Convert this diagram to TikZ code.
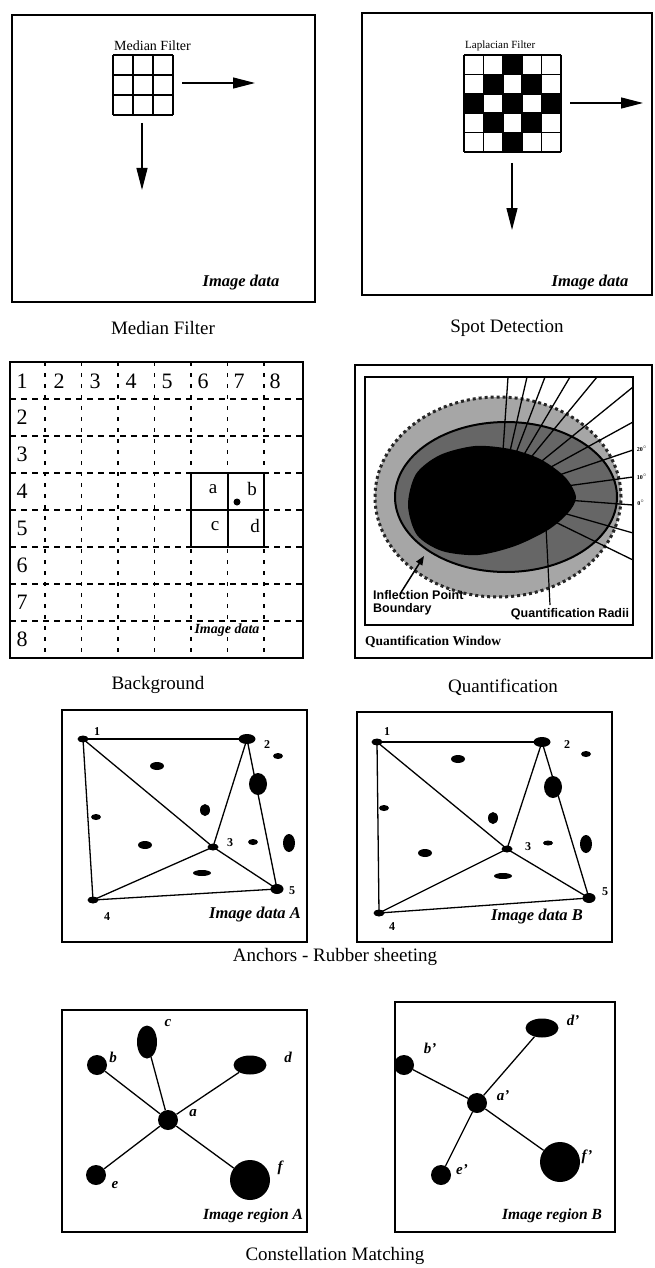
\documentclass[tikz,border=0pt]{standalone}
\usepackage{fontspec}
\setmainfont{Liberation Serif}
\setsansfont{Liberation Sans}
\usetikzlibrary{arrows.meta,shapes.geometric}
\tikzset{panel/.style={x=1pt,y=-1pt}}
\tikzset{frame/.style={draw,line width=1.8pt},
         thin grid/.style={line width=1.5pt},
         ptitle/.style={font=\fontsize{19}{22}\selectfont},
         imgtxt/.style={font=\fontsize{16.5}{19}\selectfont\bfseries\itshape},
         regtxt/.style={font=\fontsize{15.5}{18}\selectfont\bfseries\itshape},
         bigarr/.style={line width=1.2pt,-{Triangle[length=22pt,width=11pt]}},
         gdash/.style={line width=1.4pt,dash pattern=on 6pt off 5pt},
         vdash/.style={line width=1.4pt,dash pattern=on 4pt off 7pt},
         gnum/.style={font=\fontsize{22}{24}\selectfont},
         blob/.style={ellipse,fill=black,inner sep=0pt},
         anc/.style={blob,minimum width=11pt,minimum height=7pt},
         link/.style={line width=1.3pt},
         anum/.style={font=\fontsize{12}{14}\selectfont\bfseries},
         clet/.style={font=\fontsize{15}{17}\selectfont\bfseries\itshape},
         qtxt/.style={font=\fontsize{12.5}{13.5}\selectfont\sffamily\bfseries}}

\begin{document}
\begin{tikzpicture}[panel]
    \useasboundingbox (0,0) rectangle (655,1268);
    % median filter
    \draw[frame] (12,15) rectangle (315,302);
    \foreach \i in {0,...,3} {
      \draw[thin grid] ({113+20*\i},55) -- ({113+20*\i},115);
      \draw[thin grid] (113,{55+20*\i}) -- (173,{55+20*\i});
    }
    \node[anchor=south west,inner sep=1pt,font=\fontsize{14}{16}\selectfont] (mflab) at (113,52) {Median Filter};
    \coordinate (mfa) at (182,83);  \coordinate (mfb) at (255,83);
    \coordinate (mfc) at (142,123); \coordinate (mfd) at (142,190);
    \draw[bigarr] (mfa) -- (mfb);
    \draw[bigarr] (mfc) -- (mfd);
    \node[imgtxt] (mfimg) at (241,283) {Image data};
    \node[ptitle] (mfcap) at (163,328) {Median Filter};

    % spot detection
    \draw[frame] (362,13) rectangle (652,295);
    \foreach \c/\r in {2/0,1/1,3/1,0/2,2/2,4/2,1/3,3/3,2/4}
      \fill ({464+19.4*\c},{55+19.4*\r}) rectangle +(19.4,19.4);
    \foreach \i in {0,...,5} {
      \draw[thin grid] ({464+19.4*\i},55) -- ({464+19.4*\i},152);
      \draw[thin grid] (464,{55+19.4*\i}) -- (561,{55+19.4*\i});
    }
    \node[anchor=south west,inner sep=1pt,font=\fontsize{11}{12}\selectfont] (sdlab) at (464,52) {Laplacian Filter};
    \coordinate (sda) at (570,103); \coordinate (sdb) at (643,103);
    \coordinate (sdc) at (512,163); \coordinate (sdd) at (512,230);
    \draw[bigarr] (sda) -- (sdb);
    \draw[bigarr] (sdc) -- (sdd);
    \node[imgtxt] (sdimg) at (590,283) {Image data};
    \node[ptitle] (sdcap) at (507,328) {Spot Detection};

    % background
    \draw[frame] (10,362) rectangle (303,658);
    \foreach \y in {399,436,473,510,547,584,621} \draw[gdash] (10,\y) -- (303,\y);
    \foreach \x in {45,81.5,118,154.5,191,227.5,264} \draw[vdash] (\x,362) -- (\x,658);
    \foreach \x [count=\k] in {22,59,95,131,167,203,239,275}
      \node[gnum] (top\k) at (\x,381) {\k};
    \foreach \k in {2,...,8}
      \node[gnum] (row\k) at (22,{343.5+37*\k}) {\k};
    \draw[line width=2pt] (191,473) rectangle (264,547);
    \draw[line width=2pt] (227.5,473) -- (227.5,547);
    \draw[line width=2pt] (191,510) -- (264,510);
    \node[font=\fontsize{19}{21}\selectfont] (bga) at (213,489) {a};
    \node[font=\fontsize{19}{21}\selectfont] (bgb) at (252,489) {b};
    \node[font=\fontsize{19}{21}\selectfont] (bgc) at (215,526) {c};
    \node[font=\fontsize{19}{21}\selectfont] (bgd) at (255,526) {d};
    \fill (237,502) circle (3.5pt);
    \node[font=\fontsize{14}{16}\selectfont\bfseries\itshape] (bgimg) at (227,630) {Image data};
    \node[ptitle] (bgcap) at (158,685) {Background};

    % quantification
    \draw[frame] (355,365) rectangle (652,658);
    \draw[line width=1.5pt] (365,377) rectangle (633,625);
    \fill[black!35] (498,497) ellipse [x radius=123pt,y radius=100pt];
    \draw[black!85,line width=3pt,dash pattern=on 3pt off 3pt] (498,497) ellipse [x radius=123pt,y radius=100pt];
    \fill[black!60] (506,497) ellipse [x radius=111pt,y radius=75pt];
    \fill[black] plot[smooth cycle] coordinates {(408,505) (416,474) (440,455) (475,446) (510,449) (540,459) (565,477) (576,497) (568,513) (548,530) (515,546) (478,555) (442,551) (417,535)};
    \draw[line width=2pt] (506,497) ellipse [x radius=111pt,y radius=75pt];
    \coordinate (qo) at (500,495);
    \foreach \x in {508,527,545,570,597} \draw[line width=1.3pt] (qo) -- (\x,377);
    \foreach \y in {387,422,450,477,505,533,560} \draw[line width=1.3pt] (qo) -- (633,\y);
    \node[font=\fontsize{6}{7}\selectfont\bfseries,inner sep=0pt] (d20) at (642,449) {20$^{\circ}$};
    \node[font=\fontsize{6}{7}\selectfont\bfseries,inner sep=0pt] (d10) at (642,477) {10$^{\circ}$};
    \node[font=\fontsize{6}{7}\selectfont\bfseries,inner sep=0pt] (d0) at (641,503) {0$^{\circ}$};
    \node[qtxt,anchor=north west,align=left,inner sep=0pt] (ipb) at (373,590) {Inflection Point\\Boundary};
    \coordinate (ipa) at (400,594); \coordinate (ipt) at (424,556);
    \draw[line width=1.5pt,-{Triangle[length=9pt,width=7pt]}] (ipa) -- (ipt);
    \node[qtxt,inner sep=0pt] (qrad) at (570,614) {Quantification Radii};
    \coordinate (qra) at (550,605); \coordinate (qrb) at (546,527);
    \draw[line width=1.2pt] (qra) -- (qrb);
    \node[anchor=west,inner sep=0pt,font=\fontsize{13.5}{15}\selectfont\bfseries] (qwin) at (365,642) {Quantification Window};
    \node[ptitle] (qcap) at (503,687) {Quantification};

    % anchors - image data A
    \draw[frame] (62,710) rectangle (307,942);
    \foreach \x/\y/\rx/\ry in {157/766/7/4,278/756/5/3,258/784/9/11,205/810/5/6,96/817/5/3,
                               145/845/7/4,253/842/5/3,289/843/6/9,202/873/9/3}
      \fill (\x,\y) ellipse [x radius=\rx pt,y radius=\ry pt];
    \node[anc] (pa1) at (83,739) {};
    \node[anc,minimum width=17pt,minimum height=10pt] (pa2) at (247,739) {};
    \node[anc] (pa3) at (213,847) {};
    \node[anc] (pa4) at (93,900) {};
    \node[anc,minimum width=13pt,minimum height=10pt] (pa5) at (277,889) {};
    \foreach \p/\q in {1/2,1/4,1/3,3/5,2/3,2/5,3/4,4/5}
      \draw[link] (pa\p.center) -- (pa\q.center);
    \node[anum] (la1) at (97,732) {1};
    \node[anum] (la2) at (267,745) {2};
    \node[anum] (la3) at (230,843) {3};
    \node[anum] (la4) at (107,917) {4};
    \node[anum] (la5) at (292,891) {5};
    \node[imgtxt] (aimg) at (255,915) {Image data A};

    % anchors - image data B
    \draw[frame] (357,712) rectangle (612,942);
    \foreach \x/\y/\rx/\ry in {458/759/7/4,586/754/5/3,553/787/9/11,493/818/5/6,384/808/5/3,
                               425/853/7/4,548/843/5/2.5,586/844/6/9,503/876/9/3}
      \fill (\x,\y) ellipse [x radius=\rx pt,y radius=\ry pt];
    \node[anc] (pb1) at (377,742) {};
    \node[anc,minimum width=17pt,minimum height=10pt] (pb2) at (542,742) {};
    \node[anc] (pb3) at (507,849) {};
    \node[anc] (pb4) at (379,913) {};
    \node[anc,minimum width=13pt,minimum height=10pt] (pb5) at (589,898) {};
    \foreach \p/\q in {1/2,1/4,1/3,3/5,2/3,2/5,3/4,4/5}
      \draw[link] (pb\p.center) -- (pb\q.center);
    \node[anum] (lb1) at (387,732) {1};
    \node[anum] (lb2) at (567,745) {2};
    \node[anum] (lb3) at (528,847) {3};
    \node[anum] (lb4) at (392,927) {4};
    \node[anum] (lb5) at (605,892) {5};
    \node[imgtxt] (bimg) at (537,917) {Image data B};
    \node[ptitle] (ancap) at (335,957) {Anchors - Rubber sheeting};

    % constellation - region A
    \draw[frame] (62,1010) rectangle (307,1232);
    \node[blob,minimum size=20pt] (ca) at (168,1120) {};
    \node[blob,minimum size=20pt] (cb) at (97,1065) {};
    \node[blob,minimum width=20pt,minimum height=33pt] (cc) at (147,1042) {};
    \node[blob,minimum width=33pt,minimum height=19pt] (cd) at (250,1065) {};
    \node[blob,minimum size=20pt] (ce) at (96,1175) {};
    \node[blob,minimum size=40pt] (cf) at (250,1180) {};
    \foreach \q in {b,c,d,e,f} \draw[link] (ca) -- (c\q);
    \node[clet] (tca) at (193,1113) {a};
    \node[clet] (tcb) at (113,1057) {b};
    \node[clet] (tcc) at (168,1023) {c};
    \node[clet] (tcd) at (288,1057) {d};
    \node[clet] (tce) at (115,1185) {e};
    \node[clet] (tcf) at (280,1168) {f};
    \node[regtxt] (cimg) at (253,1216) {Image region A};

    % constellation - region B
    \draw[frame] (395,1002) rectangle (615,1232);
    \node[blob,minimum size=20pt] (ka) at (477,1103) {};
    \node[blob,minimum size=20pt] (kb) at (404,1065) {};
    \node[blob,minimum width=33pt,minimum height=19pt] (kd) at (542,1028) {};
    \node[blob,minimum size=20pt] (ke) at (441,1175) {};
    \node[blob,minimum size=40pt] (kf) at (560,1162) {};
    \foreach \q in {b,d,e,f} \draw[link] (ka) -- (k\q);
    \node[clet] (tka) at (503,1096) {a'};
    \node[clet] (tkb) at (430,1048) {b'};
    \node[clet] (tkd) at (573,1020) {d'};
    \node[clet] (tke) at (462,1170) {e'};
    \node[clet] (tkf) at (587,1157) {f'};
    \node[regtxt] (kimg) at (552,1216) {Image region B};
    \node[ptitle] (cmcap) at (335,1256) {Constellation Matching};
\end{tikzpicture}
\end{document}
